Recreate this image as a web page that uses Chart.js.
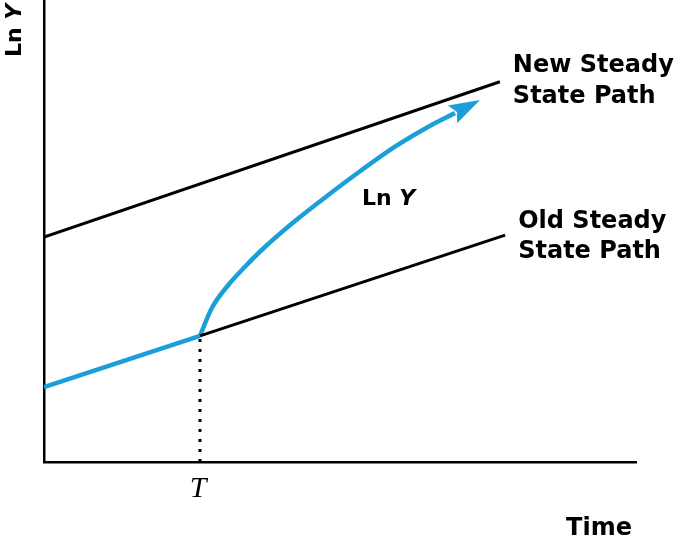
<!DOCTYPE html>
<html lang="en">
<head>
<meta charset="UTF-8">
<title>Ln Y steady state paths</title>
<script src="https://cdn.jsdelivr.net/npm/chart.js"></script>
<style>
  html, body { margin: 0; padding: 0; background: #fff; }
  #wrap { width: 679px; height: 537px; }
</style>
</head>
<body>
<div id="wrap"><canvas id="chart"></canvas></div>
<script>
// values in axis units (0..100 on both axes)
const timeT = 26.35;
const newPathX = [0, 77.0];
const newPathY = [48.7, 82.3];
const oldPathX = [26.35, 77.9];
const oldPathY = [27.3, 49.1];
const lnYBeforeX = [0, 26.35];
const lnYBeforeY = [16.2, 27.3];
const lnYAfterX = [26.35, 28.33, 31.13, 33.95, 36.77, 42.40, 48.02, 53.67, 59.29, 64.92, 69.43];
const lnYAfterY = [27.3, 33.27, 38.31, 42.27, 45.89, 52.16, 57.79, 63.20, 68.25, 72.58, 75.54];
const arrowTip = { x: 73.65, y: 78.35 };

const BLUE = '#1a9fd8';
const zip = (xs, ys) => xs.map((x, i) => ({ x: x, y: ys[i] }));

// labels placed in data units
const labels = [
  { text: 'New Steady', x: 79.2, y: 84.4 },
  { text: 'State Path', x: 79.2, y: 77.7 },
  { text: 'Old Steady', x: 80.1, y: 50.6 },
  { text: 'State Path', x: 80.1, y: 44.2 }
];

const annotate = {
  id: 'annotate',
  afterDatasetsDraw(chart) {
    const { ctx, chartArea, scales: { x, y } } = chart;
    ctx.save();

    // arrow head on the Ln Y curve
    const last = lnYAfterX.length - 1;
    const bx = x.getPixelForValue(lnYAfterX[last]), by = y.getPixelForValue(lnYAfterY[last]);
    const tx = x.getPixelForValue(arrowTip.x), ty = y.getPixelForValue(arrowTip.y);
    const ang = Math.atan2(ty - by, tx - bx);
    const len = 31, half = 10, notch = 5;
    const cx = tx - len * Math.cos(ang), cy = ty - len * Math.sin(ang);
    const nx = -Math.sin(ang), ny = Math.cos(ang);
    ctx.fillStyle = BLUE;
    ctx.beginPath();
    ctx.moveTo(tx, ty);
    ctx.lineTo(cx + nx * half, cy + ny * half);
    ctx.lineTo(cx + notch * Math.cos(ang), cy + notch * Math.sin(ang));
    ctx.lineTo(cx - nx * half, cy - ny * half);
    ctx.closePath();
    ctx.fill();

    ctx.fillStyle = '#000';
    ctx.textBaseline = 'alphabetic';
    ctx.font = 'bold 24px "DejaVu Sans"';
    ctx.textAlign = 'left';
    labels.forEach(l => ctx.fillText(l.text, x.getPixelForValue(l.x), y.getPixelForValue(l.y)));

    // Ln Y next to curve
    ctx.font = 'bold 22px "DejaVu Sans"';
    const lx = x.getPixelForValue(53.7), ly = y.getPixelForValue(55.6);
    ctx.fillText('Ln ', lx, ly);
    const w = ctx.measureText('Ln ').width;
    ctx.font = 'italic bold 22px "DejaVu Sans"';
    ctx.fillText('Y', lx + w, ly);

    // T under the axis
    ctx.font = 'italic 30px "Liberation Serif"';
    ctx.textAlign = 'center';
    ctx.fillText('T', x.getPixelForValue(timeT) - 2, chartArea.bottom + 35);

    // axis titles
    ctx.font = 'bold 24px "DejaVu Sans"';
    ctx.textAlign = 'right';
    ctx.fillText('Time', chartArea.right - 4, chartArea.bottom + 73);

    ctx.translate(chartArea.left - 23, 57);
    ctx.rotate(-Math.PI / 2);
    ctx.textAlign = 'left';
    ctx.font = 'bold 22px "DejaVu Sans"';
    ctx.fillText('Ln ', 0, 0);
    const w2 = ctx.measureText('Ln ').width;
    ctx.font = 'italic bold 22px "DejaVu Sans"';
    ctx.fillText('Y', w2, 0);
    ctx.restore();
  }
};

const axisOpts = {
  min: 0,
  max: 100,
  grid: { display: false },
  ticks: { display: false },
  border: { display: true, color: '#000', width: 2.5 }
};

new Chart(document.getElementById('chart'), {
  type: 'scatter',
  data: {
    datasets: [
      { data: zip(newPathX, newPathY), borderColor: '#000', borderWidth: 3 },
      { data: zip(oldPathX, oldPathY), borderColor: '#000', borderWidth: 3 },
      { data: [{ x: timeT, y: 0 }, { x: timeT, y: oldPathY[0] }], borderColor: '#000', borderWidth: 3, borderDash: [3, 7] },
      { data: zip(lnYBeforeX, lnYBeforeY), borderColor: BLUE, borderWidth: 4.5 },
      { data: zip(lnYAfterX, lnYAfterY), borderColor: BLUE, borderWidth: 4.5, cubicInterpolationMode: 'monotone' }
    ].map(d => Object.assign({ showLine: true, pointRadius: 0, pointHoverRadius: 0 }, d))
  },
  options: {
    responsive: true,
    maintainAspectRatio: false,
    animation: false,
    events: [],
    layout: { padding: { left: 36, top: 0, right: 43, bottom: 67 } },
    plugins: { legend: { display: false }, tooltip: { enabled: false } },
    scales: { x: axisOpts, y: axisOpts }
  },
  plugins: [annotate]
});
</script>
</body>
</html>
